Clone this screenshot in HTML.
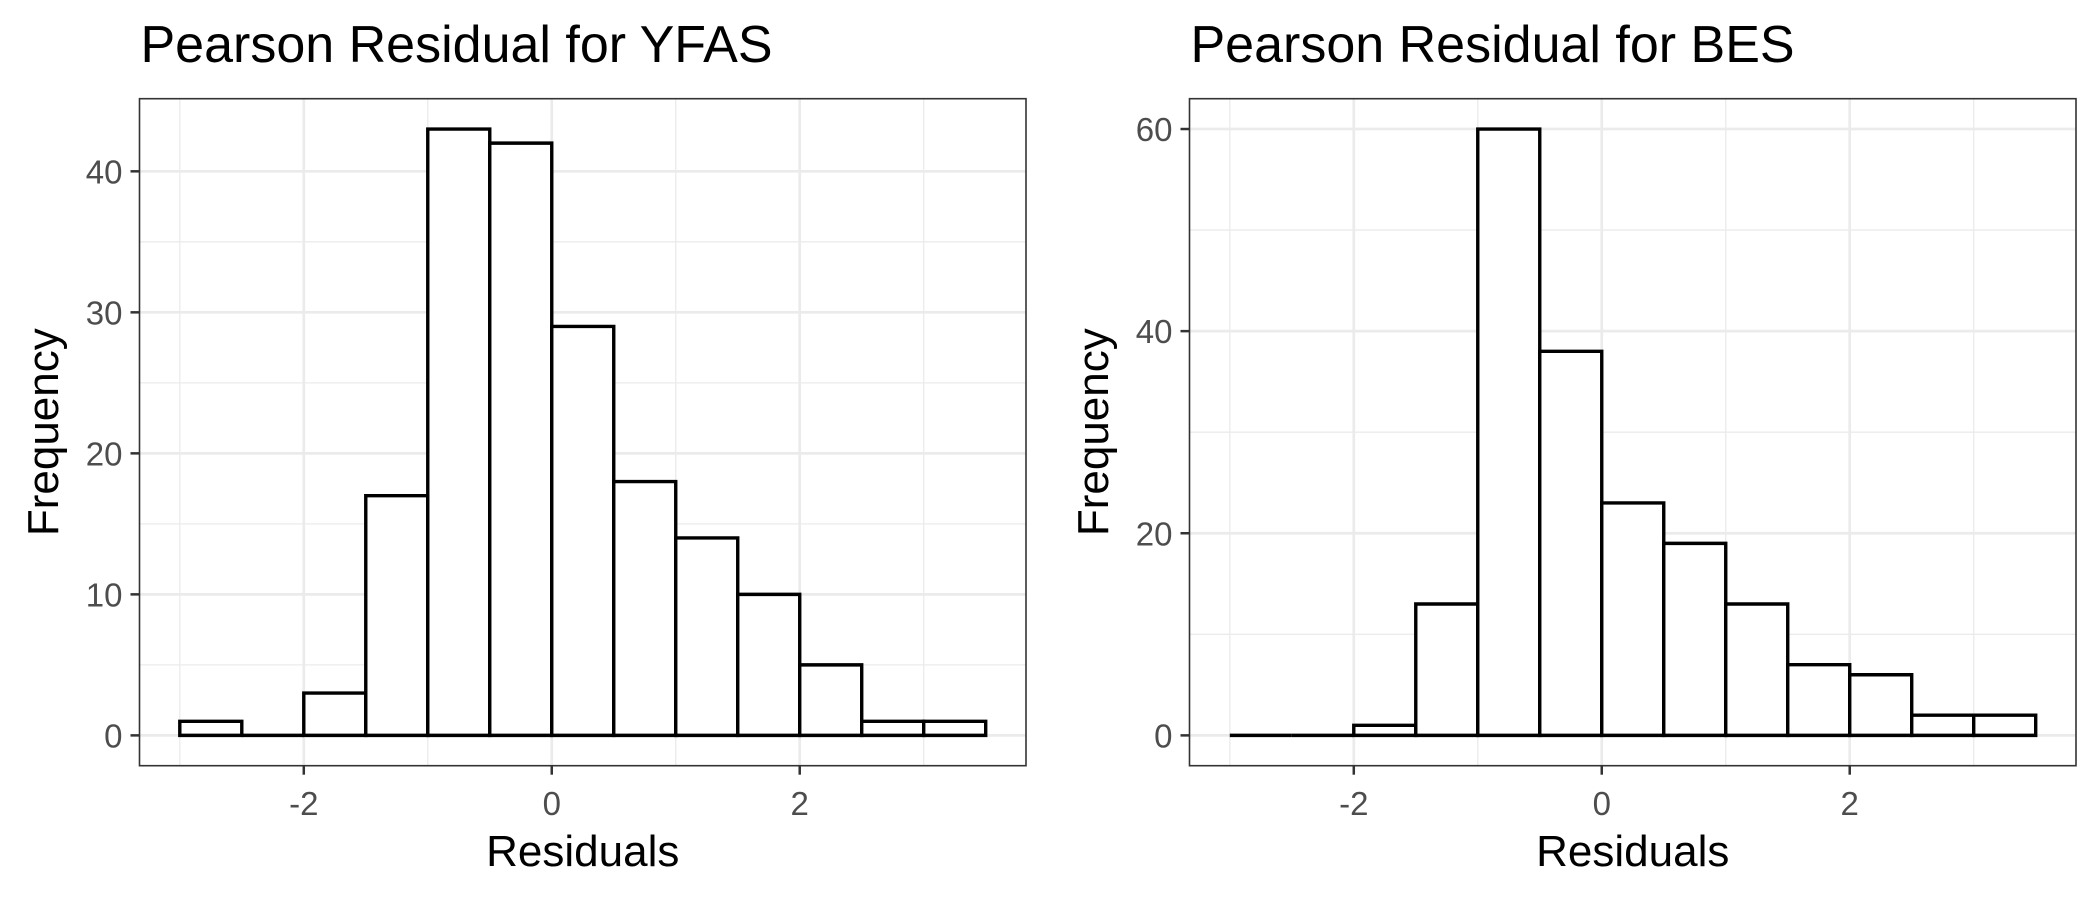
<!DOCTYPE html>
<html><head><meta charset="utf-8"><style>
html,body{margin:0;padding:0;background:#fff;}
svg{display:block;font-family:"Liberation Sans",sans-serif;}
</style></head><body>
<svg id="chart" width="2100" height="900" viewBox="0 0 2100 900"></svg>
<script>
const binStarts = [-3,-2.5,-2,-1.5,-1,-0.5,0,0.5,1,1.5,2,2.5,3];
const binWidth = 0.5;
const yfasCounts = [1,0,3,17,43,42,29,18,14,10,5,1,1];
const besCounts = [0,0,1,13,60,38,23,19,13,7,6,2,2];
const xTicks = [-2,0,2];
const xMinor = [-3,-1,1,3];
const yfasTicks = [0,10,20,30,40];
const yfasMinor = [5,15,25,35];
const besTicks = [0,20,40,60];
const besMinor = [10,30,50];
const titles = ["Pearson Residual for YFAS","Pearson Residual for BES"];

const NS="http://www.w3.org/2000/svg";
const svg=document.getElementById('chart');
function mk(tag,attrs,parent){const e=document.createElementNS(NS,tag);for(const k in attrs)e.setAttribute(k,attrs[k]);(parent||svg).appendChild(e);return e;}

function panel(off,title,counts,ticks,minor,key){
  const L=139.5+off,R=1026+off,T=98.7,B=765.7;
  const xmin=-3.325,xmax=3.825;
  const ymax=Math.max(...counts);
  const ylo=-ymax*0.05,yhi=ymax*1.05;
  const x=v=>L+(v-xmin)/(xmax-xmin)*(R-L);
  const y=v=>B-(v-ylo)/(yhi-ylo)*(B-T);
  const g=mk('g',{});
  
  
  const grid=mk('g',{},g);
  
  
  minor.forEach(v=>mk('line',{x1:L,x2:R,y1:y(v),y2:y(v),stroke:'#ebebeb','stroke-width':1.3},grid));
  xMinor.forEach(v=>mk('line',{x1:x(v),x2:x(v),y1:T,y2:B,stroke:'#ebebeb','stroke-width':1.3},grid));
  ticks.forEach(v=>mk('line',{x1:L,x2:R,y1:y(v),y2:y(v),stroke:'#ebebeb','stroke-width':2.7},grid));
  xTicks.forEach(v=>mk('line',{x1:x(v),x2:x(v),y1:T,y2:B,stroke:'#ebebeb','stroke-width':2.7},grid));
  const bars=mk('g',{},g);
  
  
  counts.forEach((c,i)=>{
    const x0=x(binStarts[i]),x1=x(binStarts[i]+binWidth),y0=y(0),y1=y(c);
    const r=mk('path',{d:`M${x0},${y0}L${x0},${y1}L${x1},${y1}L${x1},${y0}Z`,fill:'#fff',stroke:'#000','stroke-width':3.4,'stroke-linejoin':'miter'},bars);
    
    
  });
  const border=mk('rect',{x:L,y:T,width:R-L,height:B-T,fill:'none',stroke:'#333','stroke-width':1.6},g);
  
  
  ticks.forEach(v=>{
    mk('line',{x1:L-9,x2:L,y1:y(v),y2:y(v),stroke:'#333','stroke-width':2.5},g);
    const t=mk('text',{x:L-17,y:y(v)+12,'text-anchor':'end','font-size':33,fill:'#4d4d4d'},g);
    t.textContent=v;
    
    
  });
  xTicks.forEach(v=>{
    mk('line',{x1:x(v),x2:x(v),y1:B,y2:B+9,stroke:'#333','stroke-width':2.5},g);
    const t=mk('text',{x:x(v),y:815,'text-anchor':'middle','font-size':33,fill:'#4d4d4d'},g);
    t.textContent=v;
    
    
  });
  const xt=mk('text',{x:(L+R)/2,y:866,'text-anchor':'middle','font-size':44,fill:'#000'},g);
  xt.textContent='Residuals';
  
  
  const cy=(T+B)/2;
  const yt=mk('text',{x:off+58,y:cy,'text-anchor':'middle','font-size':44,fill:'#000',transform:`rotate(-90 ${off+58} ${cy})`},g);
  yt.textContent='Frequency';
  
  
  const tt=mk('text',{x:L+1,y:62,'font-size':52,fill:'#000'},g);
  tt.textContent=title;
  
  
}
panel(0,titles[0],yfasCounts,yfasTicks,yfasMinor,'yfas');
panel(1050,titles[1],besCounts,besTicks,besMinor,'bes');
</script>
</body></html>
